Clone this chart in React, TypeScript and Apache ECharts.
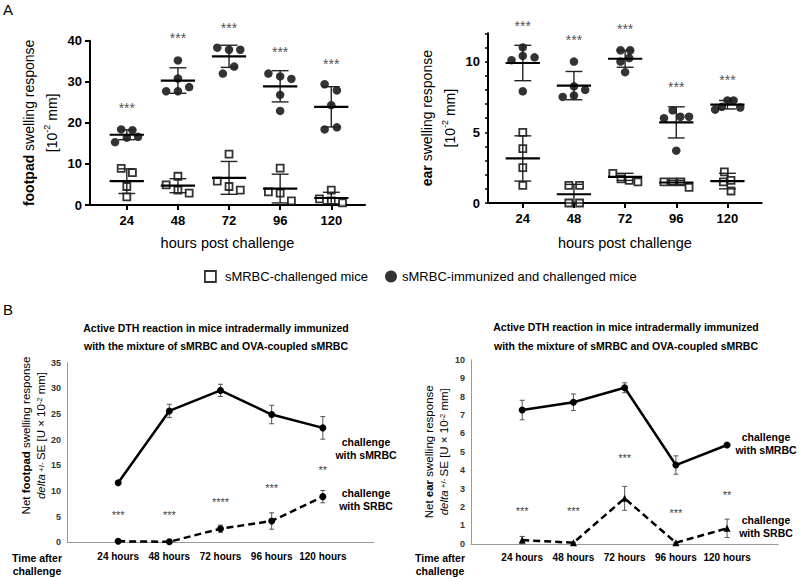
import React, { useEffect, useRef } from 'react';
import * as echarts from 'echarts';

const FONT = '"Liberation Sans", Arial, sans-serif';

// ---------- Panel A (individual mice, mean ± SD) ----------
const HOURS_A = ['24', '48', '72', '96', '120'];

const FOOT_IMMUN = [
  [15.3, 18.4, 16.4, 18.2, 16.6],
  [35.2, 30.8, 27.7, 27.7, 28.7],
  [38.3, 37.8, 37.8, 33.7, 32.0],
  [32.0, 31.3, 30.7, 26.8, 22.9],
  [29.4, 27.9, 24.3, 18.4, 18.9],
];
const FOOT_IMMUN_JITTER = [
  [-0.23, -0.11, 0, 0.11, 0.22],
  [0, 0, -0.23, 0, 0.22],
  [-0.23, 0, 0.22, 0.1, -0.12],
  [-0.23, 0, 0.22, 0, 0],
  [-0.13, 0.11, 0, -0.13, 0.11],
];
const FOOT_IMMUN_MEAN = [17.1, 30.3, 36.2, 28.9, 23.9];
const FOOT_IMMUN_SD = [1.2, 3.1, 2.7, 3.8, 4.9];

const FOOT_CHALL = [
  [8.9, 7.9, 4.5, 2.0],
  [7.0, 4.9, 3.6, 2.9],
  [12.4, 5.8, 4.5, 3.6],
  [9.0, 3.2, 2.9, 1.0],
  [3.6, 1.5, 1.0, 0.5],
];
const FOOT_CHALL_JITTER = [
  [-0.11, 0.11, 0, 0],
  [0, -0.23, 0, 0.22],
  [0, -0.23, 0, 0.22],
  [0, -0.23, 0, 0.22],
  [0, -0.23, 0, 0.22],
];
const FOOT_CHALL_MEAN = [5.8, 4.7, 6.6, 4.0, 1.7];
const FOOT_CHALL_SD = [3.0, 1.7, 4.0, 3.5, 1.4];
const FOOT_STARS = ['***', '***', '***', '***', '***'];
const FOOT_STARS_Y = [23.5, 40.6, 43.2, 37.3, 34.4];

const EAR_IMMUN = [
  [11.0, 10.1, 10.4, 10.3, 7.9],
  [10.0, 8.25, 8.0, 7.5, 7.6],
  [10.8, 10.8, 10.25, 10.0, 9.25],
  [6.55, 6.0, 6.1, 6.1, 3.7],
  [6.6, 6.8, 7.25, 7.25, 6.75],
];
const EAR_IMMUN_JITTER = [
  [0, -0.22, 0, 0.23, 0],
  [0, 0, 0.22, -0.22, 0],
  [-0.09, 0.1, 0.08, -0.09, 0],
  [-0.07, -0.24, 0.08, 0.25, 0],
  [-0.24, -0.11, 0, 0.12, 0.25],
];
const EAR_IMMUN_MEAN = [9.9, 8.3, 10.2, 5.7, 6.95];
const EAR_IMMUN_SD = [1.25, 1.0, 0.6, 1.1, 0.3];

const EAR_CHALL = [
  [5.0, 3.85, 2.5, 1.25],
  [1.25, 1.25, 0, 0],
  [2.1, 1.7, 1.6, 1.5],
  [1.5, 1.5, 1.5, 1.1],
  [2.2, 1.6, 1.5, 0.85],
];
const EAR_CHALL_JITTER = [
  [0, 0, 0, 0],
  [-0.1, 0.11, -0.1, 0.11],
  [-0.24, -0.08, 0.08, 0.25],
  [-0.24, -0.07, 0.09, 0.25],
  [-0.06, 0.07, -0.08, 0.07],
];
const EAR_CHALL_MEAN = [3.15, 0.62, 1.85, 1.45, 1.55];
const EAR_CHALL_SD = [1.6, 0.7, 0.25, 0.15, 0.55];
const EAR_STARS = ['***', '***', '***', '***', '***'];
const EAR_STARS_Y = [12.5, 11.5, 12.3, 8.2, 8.7];

// ---------- Panel B (net swelling, mean ± SE) ----------
const HOURS_B = ['24 hours', '48 hours', '72 hours', '96 hours', '120 hours'];

const NET_FOOT_SMRBC = [11.6, 25.6, 29.6, 24.9, 22.3];
const NET_FOOT_SMRBC_SE = [0.3, 1.3, 1.2, 1.8, 2.2];
const NET_FOOT_SRBC = [0.2, 0.1, 2.65, 4.15, 8.9];
const NET_FOOT_SRBC_SE = [0.2, 0.1, 0.7, 1.6, 1.2];
const NET_FOOT_STARS = ['***', '***', '****', '***', '**'];
const NET_FOOT_STARS_Y = [5.3, 5.3, 7.9, 10.5, 14.1];

const NET_EAR_SMRBC = [7.27, 7.69, 8.48, 4.28, 5.37];
const NET_EAR_SMRBC_SE = [0.53, 0.45, 0.27, 0.5, 0.05];
const NET_EAR_SRBC = [0.2, 0.06, 2.47, 0.06, 0.84];
const NET_EAR_SRBC_SE = [0.2, 0.03, 0.65, 0.03, 0.5];
const NET_EAR_STARS = ['***', '***', '***', '***', '**'];
const NET_EAR_STARS_Y = [1.78, 1.78, 4.68, 1.67, 2.65];

const IDX = [0, 1, 2, 3, 4];

const jittered = (groups: number[][], jitter: number[][]) =>
  groups.flatMap((vals, i) => vals.map((v, j) => [i + jitter[i][j], v]));

const meanSdRender = (params: any, api: any) => {
  const x = api.value(0);
  const m = api.value(1);
  const s = api.value(2);
  const c = api.coord([x, m]);
  const t = api.coord([x, m + s]);
  const b = api.coord([x, Math.max(m - s, 0)]);
  const unit = api.size([1, 0])[0];
  const hw = unit * 0.335;
  const cw = unit * 0.165;
  const thin = { stroke: '#222', lineWidth: 1.4 };
  return {
    type: 'group',
    children: [
      { type: 'line', shape: { x1: t[0], y1: t[1], x2: b[0], y2: b[1] }, style: thin },
      { type: 'line', shape: { x1: t[0] - cw, y1: t[1], x2: t[0] + cw, y2: t[1] }, style: thin },
      { type: 'line', shape: { x1: b[0] - cw, y1: b[1], x2: b[0] + cw, y2: b[1] }, style: thin },
      { type: 'line', shape: { x1: c[0] - hw, y1: c[1], x2: c[0] + hw, y2: c[1] }, style: { stroke: '#000', lineWidth: 2.2 } },
    ],
  };
};

const seRender = (params: any, api: any) => {
  const x = api.value(0);
  const m = api.value(1);
  const s = api.value(2);
  const t = api.coord([x, m + s]);
  const b = api.coord([x, Math.max(m - s, 0)]);
  const cw = 2.5;
  const st = { stroke: '#555', lineWidth: 1 };
  return {
    type: 'group',
    children: [
      { type: 'line', shape: { x1: t[0], y1: t[1], x2: b[0], y2: b[1] }, style: st },
      { type: 'line', shape: { x1: t[0] - cw, y1: t[1], x2: t[0] + cw, y2: t[1] }, style: st },
      { type: 'line', shape: { x1: b[0] - cw, y1: b[1], x2: b[0] + cw, y2: b[1] }, style: st },
    ],
  };
};

const CHALL_NAME = 'sMRBC-challenged mice';
const IMMUN_NAME = 'sMRBC-immunized and challenged mice';

const aXAxis = (gridIndex: number, min: number, max: number, nameGap: number) => ({
  type: 'value',
  gridIndex,
  min,
  max,
  splitLine: { show: false },
  axisLine: { show: true, onZero: true, lineStyle: { color: '#000', width: 2 } },
  axisTick: { show: true, customValues: IDX, length: 5, lineStyle: { color: '#000', width: 2 } },
  axisLabel: {
    customValues: IDX,
    formatter: (v: number) => HOURS_A[Math.round(v)],
    fontFamily: FONT,
    fontWeight: 'bold',
    fontSize: 13,
    color: '#000',
    margin: 9,
  },
  name: 'hours post challenge',
  nameLocation: 'middle',
  nameGap,
  nameTextStyle: { fontFamily: FONT, fontSize: 14.5, color: '#000' },
});

const aYName = (word: string) => ({
  name: `{b|${word}}{r| swelling response}\n{r|[10}{sup|-2}{r| mm]}`,
  nameLocation: 'middle',
  nameTextStyle: {
    align: 'center',
    rich: {
      b: { fontFamily: FONT, fontSize: 14, fontWeight: 'bold', color: '#000', lineHeight: 23 },
      r: { fontFamily: FONT, fontSize: 14, color: '#000', lineHeight: 23 },
      sup: { fontFamily: FONT, fontSize: 9, color: '#000', lineHeight: 23, verticalAlign: 'top', padding: [2, 0, 0, 0] },
    },
  },
});

const bYName = (word: string) => ({
  name: `{r|Net }{b|${word}}{r| swelling response}\n{i|delta}{s| +/- }{r|SE [U × 10}{sup|-2}{r| mm]}`,
  nameLocation: 'middle',
  nameTextStyle: {
    align: 'center',
    rich: {
      b: { fontFamily: FONT, fontSize: 11.5, fontWeight: 'bold', color: '#000', lineHeight: 15 },
      r: { fontFamily: FONT, fontSize: 11.5, color: '#000', lineHeight: 15 },
      i: { fontFamily: FONT, fontSize: 11.5, fontStyle: 'italic', color: '#000', lineHeight: 15 },
      s: { fontFamily: FONT, fontSize: 8, color: '#000', lineHeight: 15 },
      sup: { fontFamily: FONT, fontSize: 7.5, color: '#000', lineHeight: 15, verticalAlign: 'top', padding: [2, 0, 0, 0] },
    },
  },
});

const bXAxis = (gridIndex: number) => ({
  type: 'value',
  gridIndex,
  min: -1,
  max: 5,
  splitLine: { show: false },
  axisLine: { show: true, lineStyle: { color: '#999', width: 1 } },
  axisTick: { show: false },
  axisLabel: {
    customValues: IDX,
    formatter: (v: number) => HOURS_B[Math.round(v)],
    fontFamily: FONT,
    fontWeight: 'bold',
    fontSize: 10,
    color: '#000',
    margin: 9,
  },
});

const bYAxis = (gridIndex: number, max: number, interval: number, word: string, nameGap: number, padLeft: number) => {
  const n = bYName(word);
  return {
    type: 'value',
    gridIndex,
    min: 0,
    max,
    interval,
    position: 'left',
    splitLine: { show: false },
    axisLine: { show: true, onZero: false, lineStyle: { color: '#999', width: 1 } },
    axisTick: { show: false },
    axisLabel: { fontFamily: FONT, fontWeight: 'bold', fontSize: 9, color: '#333', margin: 6 },
    ...n,
    nameGap,
    nameTextStyle: { ...n.nameTextStyle, padding: [0, 0, 0, padLeft] },
  };
};

const scatterSeries = (name: string, xi: number, yi: number, data: number[][], filled: boolean) => ({
  type: 'scatter',
  name,
  xAxisIndex: xi,
  yAxisIndex: yi,
  data,
  symbol: filled ? 'circle' : 'rect',
  symbolSize: filled ? 8.5 : 7,
  itemStyle: filled
    ? { color: '#000' }
    : { color: '#fff', borderColor: '#000', borderWidth: 1.8 },
  z: 3,
});

const meanSeries = (name: string, xi: number, yi: number, mean: number[], sd: number[]) => ({
  type: 'custom',
  name,
  xAxisIndex: xi,
  yAxisIndex: yi,
  data: mean.map((m, i) => [i, m, sd[i]]),
  renderItem: meanSdRender,
  z: 4,
});

const starSeries = (name: string, xi: number, yi: number, ys: number[], labels: string[], fontSize: number, color: string) => ({
  type: 'scatter',
  name,
  xAxisIndex: xi,
  yAxisIndex: yi,
  clip: false,
  symbolSize: 1,
  itemStyle: { color: 'transparent' },
  data: ys.map((y, i) => ({ name: labels[i], value: [i, y] })),
  label: {
    show: true,
    position: 'inside',
    formatter: '{b}',
    fontFamily: FONT,
    fontSize,
    color,
    textBorderWidth: 0,
    textBorderColor: 'transparent',
  },
});

const lineSeries = (name: string, xi: number, yi: number, vals: number[], dashed: boolean, symbol: string) => ({
  type: 'line',
  name,
  xAxisIndex: xi,
  yAxisIndex: yi,
  data: vals.map((v, i) => [i, v]),
  symbol,
  symbolSize: 7,
  itemStyle: { color: '#000' },
  lineStyle: { color: '#000', width: 2.5, type: dashed ? [7, 4] : 'solid' },
  z: 3,
});

const seSeries = (name: string, xi: number, yi: number, vals: number[], se: number[]) => ({
  type: 'custom',
  name,
  xAxisIndex: xi,
  yAxisIndex: yi,
  data: vals.map((v, i) => [i, v, se[i]]),
  renderItem: seRender,
  z: 2,
});

const sideText = (x: number, y: number, text: string) => ({
  type: 'text',
  x,
  y,
  style: {
    text,
    fontFamily: FONT,
    fontSize: 10.5,
    fontWeight: 'bold',
    fill: '#000',
    align: 'center',
    verticalAlign: 'middle',
    lineHeight: 13,
  },
});

const TITLE_B = 'Active DTH reaction in mice intradermally immunized\nwith the mixture of sMRBC and OVA-coupled sMRBC';

export default function App() {
  const ref = useRef<HTMLDivElement>(null);

  useEffect(() => {
    if (!ref.current) return;
    const chart = echarts.init(ref.current, undefined, { renderer: 'svg' });

    const option: any = {
      animation: false,
      backgroundColor: '#fff',
      textStyle: { fontFamily: FONT },
      title: [
        {
          text: TITLE_B,
          left: 211,
          top: 314,
          textAlign: 'center',
          textStyle: { fontFamily: FONT, fontSize: 10.5, fontWeight: 'bold', color: '#000', lineHeight: 18 },
        },
        {
          text: TITLE_B,
          left: 621,
          top: 312,
          textAlign: 'center',
          textStyle: { fontFamily: FONT, fontSize: 10.5, fontWeight: 'bold', color: '#000', lineHeight: 19 },
        },
      ],
      legend: [
        {
          data: [{ name: CHALL_NAME, icon: 'rect', itemStyle: { color: '#fff', borderColor: '#000', borderWidth: 1.8 } }],
          left: 199,
          top: 265,
          itemWidth: 11,
          itemHeight: 11,
          selectedMode: false,
          textStyle: { fontFamily: FONT, fontSize: 13, color: '#000', padding: [0, 0, 0, 4] },
        },
        {
          data: [{ name: IMMUN_NAME, icon: 'circle', itemStyle: { color: '#000' } }],
          left: 380,
          top: 265,
          itemWidth: 12,
          itemHeight: 12,
          selectedMode: false,
          textStyle: { fontFamily: FONT, fontSize: 13, color: '#000' },
        },
      ],
      grid: [
        { left: 90, top: 40.7, width: 275, height: 164.3 },
        { left: 488, top: 33.3, width: 273.7, height: 169.7 },
        { left: 67, top: 362.7, width: 307, height: 179.6 },
        { left: 471, top: 359.8, width: 307.3, height: 184 },
      ],
      xAxis: [
        aXAxis(0, -0.72, 4.66, 30),
        aXAxis(1, -0.68, 4.67, 32),
        bXAxis(2),
        bXAxis(3),
      ],
      yAxis: [
        {
          type: 'value',
          gridIndex: 0,
          min: 0,
          max: 40,
          interval: 10,
          position: 'left',
          splitLine: { show: false },
          axisLine: { show: true, onZero: false, lineStyle: { color: '#000', width: 2 } },
          axisTick: { show: true, length: 5, lineStyle: { color: '#000', width: 2 } },
          axisLabel: { fontFamily: FONT, fontWeight: 'bold', fontSize: 13, color: '#000', margin: 8 },
          ...aYName('footpad'),
          nameGap: 27,
        },
        {
          type: 'value',
          gridIndex: 1,
          min: 0,
          max: 12,
          interval: 1,
          position: 'left',
          splitLine: { show: false },
          axisLine: { show: true, onZero: false, lineStyle: { color: '#000', width: 2 } },
          axisTick: { show: true, length: 3, lineStyle: { color: '#000', width: 1.5 } },
          axisLabel: {
            fontFamily: FONT,
            fontWeight: 'bold',
            fontSize: 13,
            color: '#000',
            margin: 8,
            formatter: (v: number) => (v % 5 === 0 ? String(v) : ''),
          },
          ...aYName('ear'),
          nameGap: 27,
        },
        bYAxis(2, 35, 5, 'footpad', 16, 34),
        bYAxis(3, 10, 1, 'ear', 20, 0),
      ],
      graphic: [
        { type: 'text', x: 3, y: 2, style: { text: 'A', fontFamily: FONT, fontSize: 15, fill: '#000' } },
        { type: 'text', x: 3, y: 302, style: { text: 'B', fontFamily: FONT, fontSize: 15, fill: '#000' } },
        sideText(37, 564, 'Time after\nchallenge'),
        sideText(440, 564, 'Time after\nchallenge'),
        sideText(366, 448, 'challenge\nwith sMRBC'),
        sideText(366, 499, 'challenge\nwith SRBC'),
        sideText(766, 443, 'challenge\nwith sMRBC'),
        sideText(766, 526, 'challenge\nwith SRBC'),
      ],
      series: [
        // Panel A left: footpad
        scatterSeries(CHALL_NAME, 0, 0, jittered(FOOT_CHALL, FOOT_CHALL_JITTER), false),
        scatterSeries(IMMUN_NAME, 0, 0, jittered(FOOT_IMMUN, FOOT_IMMUN_JITTER), true),
        meanSeries('footpad challenged mean ± SD', 0, 0, FOOT_CHALL_MEAN, FOOT_CHALL_SD),
        meanSeries('footpad immunized mean ± SD', 0, 0, FOOT_IMMUN_MEAN, FOOT_IMMUN_SD),
        starSeries('footpad significance', 0, 0, FOOT_STARS_Y, FOOT_STARS, 14, '#222'),
        // Panel A right: ear
        scatterSeries(CHALL_NAME, 1, 1, jittered(EAR_CHALL, EAR_CHALL_JITTER), false),
        scatterSeries(IMMUN_NAME, 1, 1, jittered(EAR_IMMUN, EAR_IMMUN_JITTER), true),
        meanSeries('ear challenged mean ± SD', 1, 1, EAR_CHALL_MEAN, EAR_CHALL_SD),
        meanSeries('ear immunized mean ± SD', 1, 1, EAR_IMMUN_MEAN, EAR_IMMUN_SD),
        starSeries('ear significance', 1, 1, EAR_STARS_Y, EAR_STARS, 14, '#222'),
        // Panel B left: net footpad
        seSeries('footpad sMRBC SE', 2, 2, NET_FOOT_SMRBC, NET_FOOT_SMRBC_SE),
        seSeries('footpad SRBC SE', 2, 2, NET_FOOT_SRBC, NET_FOOT_SRBC_SE),
        lineSeries('challenge with sMRBC (footpad)', 2, 2, NET_FOOT_SMRBC, false, 'circle'),
        lineSeries('challenge with SRBC (footpad)', 2, 2, NET_FOOT_SRBC, true, 'circle'),
        starSeries('net footpad significance', 2, 2, NET_FOOT_STARS_Y, NET_FOOT_STARS, 11, '#000'),
        // Panel B right: net ear
        seSeries('ear sMRBC SE', 3, 3, NET_EAR_SMRBC, NET_EAR_SMRBC_SE),
        seSeries('ear SRBC SE', 3, 3, NET_EAR_SRBC, NET_EAR_SRBC_SE),
        lineSeries('challenge with sMRBC (ear)', 3, 3, NET_EAR_SMRBC, false, 'circle'),
        lineSeries('challenge with SRBC (ear)', 3, 3, NET_EAR_SRBC, true, 'triangle'),
        starSeries('net ear significance', 3, 3, NET_EAR_STARS_Y, NET_EAR_STARS, 11, '#000'),
      ],
    };

    chart.setOption(option);
    return () => chart.dispose();
  }, []);

  return (
    <div
      ref={ref}
      style={{ position: 'absolute', left: 0, top: 0, width: 800, height: 577, background: '#fff' }}
    />
  );
}
